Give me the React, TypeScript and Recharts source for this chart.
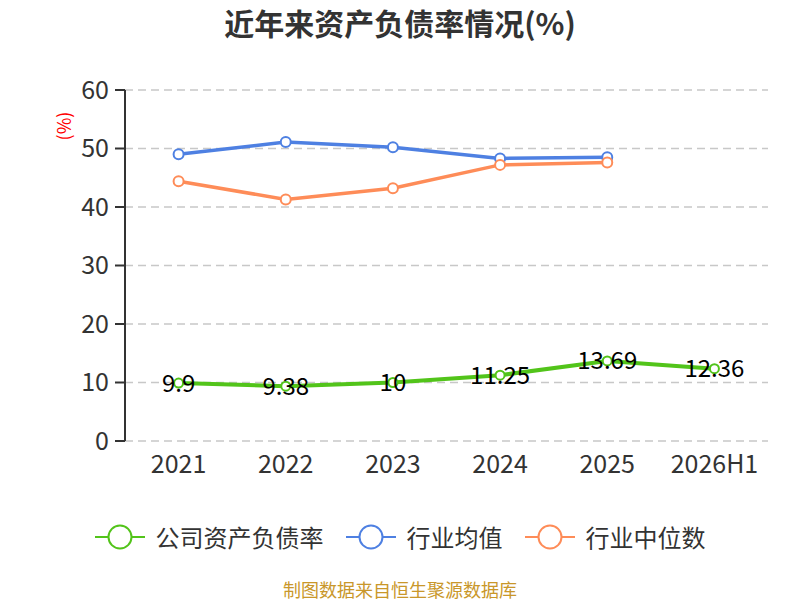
import React from 'react';
import { LineChart, Line, XAxis, YAxis, CartesianGrid, LabelList } from 'recharts';

const categories = ['2021', '2022', '2023', '2024', '2025', '2026H1'];
const companyRatio = [9.9, 9.38, 10, 11.25, 13.69, 12.36];
const industryAvg: (number | null)[] = [49.0, 51.1, 50.2, 48.3, 48.5, null];
const industryMedian: (number | null)[] = [44.4, 41.3, 43.2, 47.2, 47.6, null];
const yTicks = [0, 10, 20, 30, 40, 50, 60];
const xBoundaryTicks = [0, 1, 2, 3, 4, 5, 6];

const seriesNames = ['公司资产负债率', '行业均值', '行业中位数'];
const colors = ['#52c41a', '#4e80e2', '#fe8c58'];

const data = categories.map((name, i) => ({
  name,
  x: i + 0.5,
  company: companyRatio[i],
  avg: industryAvg[i],
  median: industryMedian[i],
}));

const FONT = "'Noto Sans CJK SC', 'Noto Sans', sans-serif";

const LegendIcon = ({ color }: { color: string }) => (
  <svg width={50} height={28} style={{ display: 'block' }}>
    <line x1={0} y1={14} x2={50} y2={14} stroke={color} strokeWidth={2} />
    <circle cx={25} cy={14} r={11.5} fill="#fff" stroke={color} strokeWidth={2} />
  </svg>
);

export default function App() {
  return (
    <div style={{ position: 'fixed', left: 0, top: 0, width: 800, height: 600, background: '#fff', fontFamily: FONT, overflow: 'hidden' }}>
      <div style={{ position: 'absolute', top: 1, left: 0, width: 800, textAlign: 'center', fontSize: 30, fontWeight: 'bold', color: '#333', lineHeight: '42px' }}>
        近年来资产负债率情况(%)
      </div>
      <div style={{ position: 'absolute', left: 50, top: 113, width: 26, height: 26, display: 'flex', alignItems: 'center', justifyContent: 'center' }}>
        <div style={{ transform: 'rotate(-90deg)', color: '#ff0000', fontSize: 18, whiteSpace: 'nowrap' }}>(%)</div>
      </div>
      <div style={{ position: 'absolute', left: 0, top: 0 }}>
        <LineChart width={800} height={600} data={data} margin={{ top: 90, right: 32, bottom: 119, left: 65 }}>
          <CartesianGrid horizontal vertical={false} stroke="#c8c8c8" strokeDasharray="8 5" strokeWidth={1.5} xAxisId="num" />
          <XAxis
            xAxisId="num"
            type="number"
            dataKey="x"
            domain={[0, 6]}
            ticks={xBoundaryTicks}
            tick={false}
            tickLine={{ stroke: '#333', strokeWidth: 2 }}
            axisLine={{ stroke: '#333', strokeWidth: 2 }}
            tickSize={9}
            height={0}
            allowDataOverflow
          />
          <XAxis
            xAxisId="cat"
            type="category"
            dataKey="name"
            scale="band"
            axisLine={false}
            tickLine={false}
            tickSize={8}
            tickMargin={6}
            height={40}
            interval={0}
            tick={{ fill: '#333', fontSize: 25, fontFamily: FONT }}
          />
          <YAxis
            type="number"
            domain={[0, 60]}
            ticks={yTicks}
            width={60}
            tickSize={10}
            tickMargin={6}
            axisLine={{ stroke: '#333', strokeWidth: 2 }}
            tickLine={{ stroke: '#333', strokeWidth: 2 }}
            tick={{ fill: '#333', fontSize: 25, fontFamily: FONT }}
            interval={0}
          />
          <Line
            xAxisId="num"
            type="linear"
            dataKey="avg"
            name={seriesNames[1]}
            stroke={colors[1]}
            strokeWidth={3.5}
            dot={{ r: 5, fill: '#fff', stroke: colors[1], strokeWidth: 2 }}
            isAnimationActive={false}
          />
          <Line
            xAxisId="num"
            type="linear"
            dataKey="median"
            name={seriesNames[2]}
            stroke={colors[2]}
            strokeWidth={3.5}
            dot={{ r: 5, fill: '#fff', stroke: colors[2], strokeWidth: 2 }}
            isAnimationActive={false}
          />
          <Line
            xAxisId="num"
            type="linear"
            dataKey="company"
            name={seriesNames[0]}
            stroke={colors[0]}
            strokeWidth={4}
            dot={{ r: 4.5, fill: '#fff', stroke: colors[0], strokeWidth: 2 }}
            isAnimationActive={false}
          >
            <LabelList dataKey="company" position="center" fill="#000" fontSize={24} fontFamily={FONT} />
          </Line>
        </LineChart>
      </div>
      <div style={{ position: 'absolute', top: 523, left: 0, width: 800, display: 'flex', justifyContent: 'center', alignItems: 'center' }}>
        {seriesNames.map((n, i) => (
          <div key={n} style={{ display: 'flex', alignItems: 'center', marginLeft: i === 0 ? 0 : 22 }}>
            <LegendIcon color={colors[i]} />
            <span style={{ marginLeft: 11, fontSize: 24, color: '#333', lineHeight: '28px' }}>{n}</span>
          </div>
        ))}
      </div>
      <div style={{ position: 'absolute', top: 579, left: 0, width: 800, textAlign: 'center', fontSize: 18, color: '#c9972a', lineHeight: '20px' }}>
        制图数据来自恒生聚源数据库
      </div>
    </div>
  );
}
